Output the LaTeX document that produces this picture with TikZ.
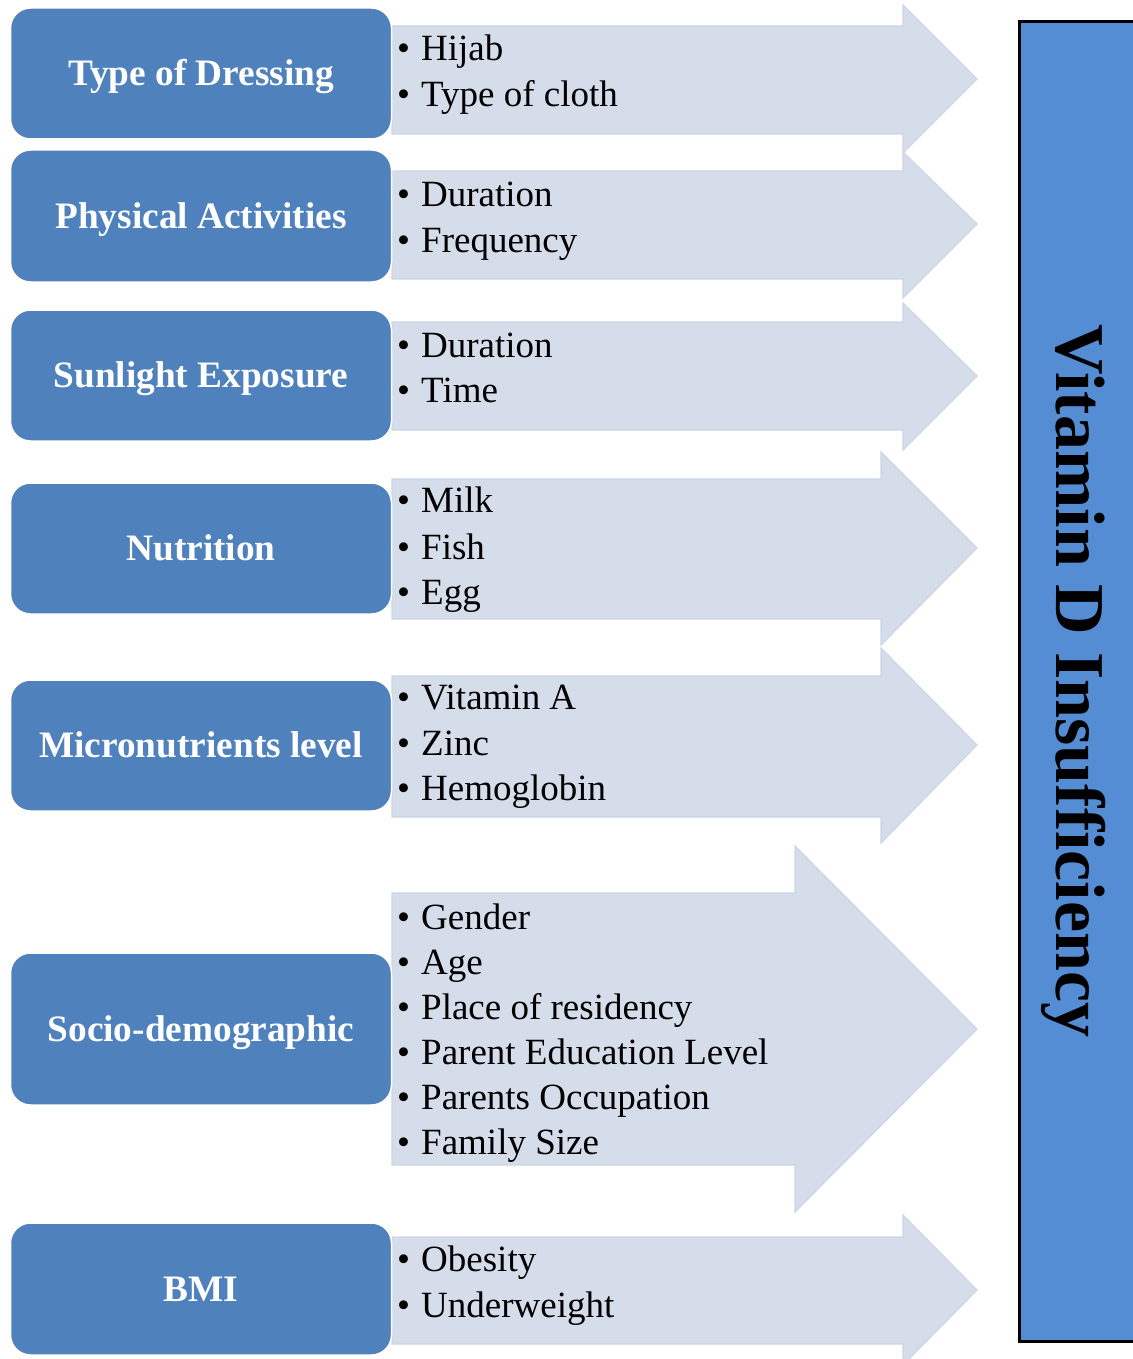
\documentclass[tikz,border=0pt]{standalone}
\usepackage{fontspec}
\setmainfont{Liberation Serif}
\definecolor{boxblue}{HTML}{4F81BD}
\definecolor{arrowfill}{HTML}{D5DCEA}
\definecolor{arrowline}{HTML}{CDD5E6}
\definecolor{sideblue}{HTML}{548DD4}
\tikzset{
  factor/.style={draw=white, line width=1.5pt, fill=boxblue, rounded corners=20pt,
    minimum width=381pt, text=white, font=\fontsize{37.3}{40}\selectfont\bfseries,
    inner sep=0pt, text height=24.7pt, text depth=0pt},
  arrowshape/.style={fill=arrowfill, draw=arrowline, line width=1.2pt, line join=miter},
  item/.style={anchor=base west, inner sep=0pt, font=\fontsize{37}{40}\selectfont}
}
\newcommand{\bul}{\makebox[24pt][l]{\textbullet}}
\begin{document}
\begin{tikzpicture}[x=1pt,y=-1pt]
\useasboundingbox (0,0) rectangle (1132,1359);
% arrows
\draw[arrowshape] (392,26) -- (903,26) -- (903,5) -- (977,79) -- (903,153) -- (903,134) -- (392,134) -- cycle;
\draw[arrowshape] (392,171) -- (903,171) -- (903,152) -- (977,224) -- (903,298) -- (903,279) -- (392,279) -- cycle;
\draw[arrowshape] (392,322) -- (903,322) -- (903,303) -- (977,376) -- (903,450) -- (903,430) -- (392,430) -- cycle;
\draw[arrowshape] (392,479) -- (881,479) -- (881,452) -- (977,548) -- (881,645) -- (881,619) -- (392,619) -- cycle;
\draw[arrowshape] (392,676) -- (881,676) -- (881,648) -- (977,745) -- (881,843) -- (881,817) -- (392,817) -- cycle;
\draw[arrowshape] (392,893) -- (795,893) -- (795,846) -- (977,1029) -- (795,1212) -- (795,1165) -- (392,1165) -- cycle;
\draw[arrowshape] (392,1237) -- (903,1237) -- (903,1215) -- (977,1290) -- (903,1365) -- (903,1344) -- (392,1344) -- cycle;
% factor boxes
\node[factor, minimum height=131pt] (b1) at (201,73.5) {Type of Dressing};
\node[factor, minimum height=132pt] (b2) at (201,216) {Physical Activities};
\node[factor, minimum height=131pt] (b3) at (201,375.5) {Sunlight Exposure};
\node[factor, minimum height=131pt] (b4) at (201,548.5) {Nutrition};
\node[factor, minimum height=131pt] (b5) at (201,745.5) {Micronutrients level};
\node[factor, minimum height=152pt] (b6) at (201,1029) {Socio-demographic};
\node[factor, minimum height=132pt] (b7) at (201,1289) {BMI};
% items
\node[item] (i11) at (397,61) {\bul Hijab};
\node[item] (i12) at (397,107) {\bul Type of cloth};
\node[item] (i21) at (397,206) {\bul Duration};
\node[item] (i22) at (397,252) {\bul Frequency};
\node[item] (i31) at (397,357) {\bul Duration};
\node[item] (i32) at (397,402) {\bul Time};
\node[item] (i41) at (397,512) {\bul Milk};
\node[item] (i42) at (397,559) {\bul Fish};
\node[item] (i43) at (397,604) {\bul Egg};
\node[item] (i51) at (397,709) {\bul Vitamin A};
\node[item] (i52) at (397,755) {\bul Zinc};
\node[item] (i53) at (397,800) {\bul Hemoglobin};
\node[item] (i61) at (397,929) {\bul Gender};
\node[item] (i62) at (397,974) {\bul Age};
\node[item] (i63) at (397,1019) {\bul Place of residency};
\node[item] (i64) at (397,1064) {\bul Parent Education Level};
\node[item] (i65) at (397,1109) {\bul Parents Occupation};
\node[item] (i66) at (397,1154) {\bul Family Size};
\node[item] (i71) at (397,1271) {\bul Obesity};
\node[item] (i72) at (397,1317) {\bul Underweight};
% outcome
\draw[fill=sideblue, draw=black, line width=3pt] (1019.5,21.5) rectangle (1150,1341);
\node[rotate=-90, anchor=base, inner sep=0pt, font=\fontsize{70}{74}\selectfont\bfseries] (vd) at (1056,681) {Vitamin D Insufficiency};
\end{tikzpicture}
\end{document}
